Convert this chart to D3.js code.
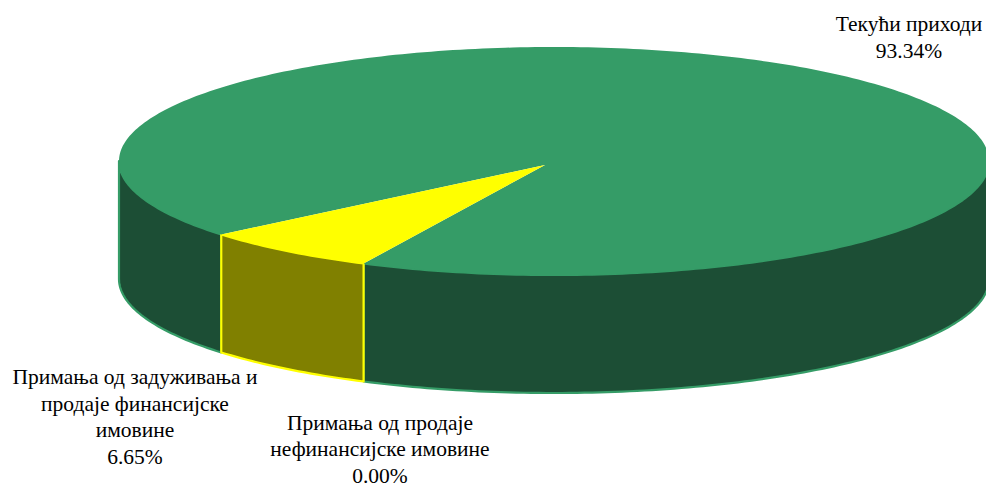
<!DOCTYPE html>
<html><head><meta charset="utf-8">
<script src="https://cdn.jsdelivr.net/npm/d3@7"></script>
<style>html,body{margin:0;padding:0;background:#fff}svg{display:block}</style>
</head><body><svg id="c" width="986" height="484"></svg>
<script>
const categories = ["Текући приходи", "Примања од продаје нефинансијске имовине", "Примања од задуживања и продаје финансијске имовине"];
const values = [93.34, 0.00, 6.65];
const labelLines = [["Текући приходи"], ["Примања од продаје", "нефинансијске имовине"], ["Примања од задуживања и", "продаје финансијске", "имовине"]];
const topColors = ["#359c67", "#359c67", "#ffff00"];
const sideColors = ["#1c4e35", "#1c4e35", "#808000"];

const cx = 554, cy = 161, rx = 435, ry = 114, depth = 118;
const apex = [545, 165];
const labelAnchor = [[909, 31], [380, 429.5], [135, 384]];
const lineH = 26.6;
const svg = d3.select("#c");
const deg = Math.PI / 180;
const start = 229.9 * deg;
const pie = d3.pie().sort(null).startAngle(start).endAngle(start + 2 * Math.PI);
const arcs = pie(values);
const px = a => cx + rx * Math.sin(a), py = a => cy - ry * Math.cos(a);
const line = d3.line();
const samples = (a0, a1) => {
  const n = Math.max(2, Math.ceil((a1 - a0) / deg));
  return d3.range(n + 1).map(i => a0 + (a1 - a0) * i / n);
};
// Front-facing wall intervals (clockwise from top: 90°–270°, repeating every 360°)
const frontParts = (a0, a1) => {
  const out = [];
  for (let k = -1; k < 3; k++) {
    const lo = Math.max(a0, (90 + 360 * k) * deg), hi = Math.min(a1, (270 + 360 * k) * deg);
    if (hi > lo) out.push([lo, hi]);
  }
  return out;
};
const visible = arcs.map((d, i) => ({d, i})).filter(o => o.d.endAngle - o.d.startAngle > 1e-6);

visible.forEach(({d, i}) => {
  frontParts(d.startAngle, d.endAngle).forEach(([lo, hi]) => {
    const s = samples(lo, hi);
    const pts = s.map(a => [px(a), py(a)]).concat(s.slice().reverse().map(a => [px(a), py(a) + depth]));
    svg.append("path").attr("d", line(pts) + "Z")
      .attr("fill", sideColors[i]).attr("stroke", topColors[i]).attr("stroke-width", 2.2).attr("stroke-linejoin", "round");
  });
});
visible.forEach(({d, i}) => {
  const s = samples(d.startAngle, d.endAngle);
  const pts = [apex].concat(s.map(a => [px(a), py(a)]));
  svg.append("path").attr("d", line(pts) + "Z").attr("fill", topColors[i]);
});
arcs.forEach((d, i) => {
  const t = svg.append("text").attr("text-anchor", "middle")
    .attr("font-family", "'Liberation Serif', serif").attr("font-size", 21.5).attr("fill", "#000");
  const lines = labelLines[i].concat([d3.format(".2f")(values[i]) + "%"]);
  lines.forEach((l, j) => t.append("tspan").attr("x", labelAnchor[i][0]).attr("y", labelAnchor[i][1] + j * lineH).text(l));
});
</script></body></html>
